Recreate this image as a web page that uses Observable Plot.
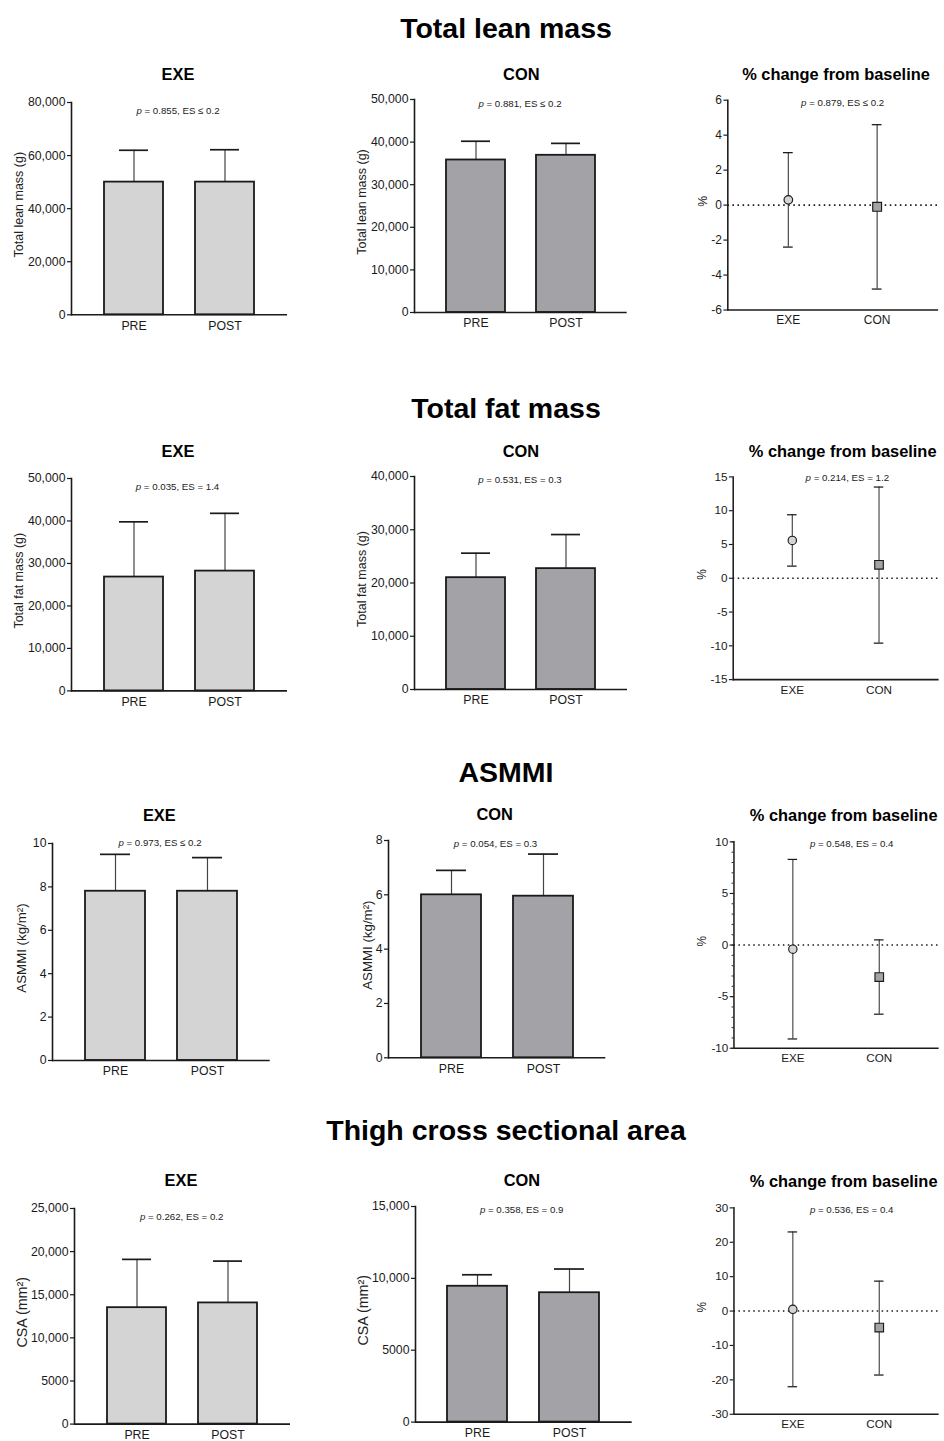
<!DOCTYPE html>
<html><head><meta charset="utf-8">
<script src="https://cdn.jsdelivr.net/npm/d3@7"></script>
<script src="https://cdn.jsdelivr.net/npm/@observablehq/plot@0.6"></script>
<style>
html,body{margin:0;padding:0;background:#fff;}
body{width:944px;height:1441px;overflow:hidden;position:relative;font-family:"Liberation Sans",Arial,sans-serif;color:#000;}
#root{position:absolute;left:0;top:0;width:944px;height:1441px;overflow:hidden;}
.sec{position:absolute;width:700px;text-align:center;font-weight:bold;font-size:28.5px;line-height:28px;}
.ptitle{position:absolute;width:300px;text-align:center;font-weight:bold;font-size:16.4px;line-height:16px;}
.ann{position:absolute;width:220px;text-align:center;font-size:9.7px;line-height:10px;color:#222;white-space:nowrap;}
.panel{position:absolute;}
.panel svg{overflow:visible;}
</style></head>
<body><div id="root"></div>
<script>
// ---------------- data ----------------
const timepoints = ["PRE", "POST"];
const groups = ["EXE", "CON"];
const sectionTitles = ["Total lean mass", "Total fat mass", "ASMMI", "Thigh cross sectional area"];
const yAxisLabels = ["Total lean mass (g)", "Total fat mass (g)", "ASMMI (kg/m²)", "CSA (mm²)"];
const pctTitle = "% change from baseline";
const pctAxisLabel = "%";

// bar means (PRE, POST) and mean + SD
const exeMean  = [[50000, 50000], [26800, 28200], [7.8, 7.8], [13500, 14050]];
const exeUpper = [[62000, 62200], [39800, 41800], [9.5, 9.35], [19100, 18900]];
const conMean  = [[35800, 36900], [21000, 22700], [6.0, 5.95], [9450, 9000]];
const conUpper = [[40200, 39700], [25600, 29100], [6.9, 7.5], [10250, 10650]];

// % change from baseline (EXE, CON): mean, lower, upper
const pctMean = [[0.3, -0.1], [5.6, 2.0], [-0.4, -3.1], [0.5, -4.8]];
const pctLow  = [[-2.4, -4.8], [1.8, -9.6], [-9.1, -6.7], [-22.0, -18.6]];
const pctHigh = [[3.0, 4.6], [9.4, 13.5], [8.3, 0.5], [23.0, 8.7]];

// statistics annotations
const exeP  = ["0.855", "0.035", "0.973", "0.262"];
const exeES = ["≤ 0.2", "= 1.4", "≤ 0.2", "= 0.2"];
const conP  = ["0.881", "0.531", "0.054", "0.358"];
const conES = ["≤ 0.2", "= 0.3", "= 0.3", "= 0.9"];
const pctP  = ["0.879", "0.214", "0.548", "0.536"];
const pctES = ["≤ 0.2", "= 1.2", "= 0.4", "= 0.4"];

// tick values
const exeYTicks = [[0, 20000, 40000, 60000, 80000], [0, 10000, 20000, 30000, 40000, 50000], [0, 2, 4, 6, 8, 10], [0, 5000, 10000, 15000, 20000, 25000]];
const conYTicks = [[0, 10000, 20000, 30000, 40000, 50000], [0, 10000, 20000, 30000, 40000], [0, 2, 4, 6, 8], [0, 5000, 10000, 15000]];
const pctYTicks = [[-6, -4, -2, 0, 2, 4, 6], [-15, -10, -5, 0, 5, 10, 15], [-10, -5, 0, 5, 10], [-30, -20, -10, 0, 10, 20, 30]];
const pctMinorTicks = [null, null, [-10,-9,-8,-7,-6,-5,-4,-3,-2,-1,0,1,2,3,4,5,6,7,8,9,10], null];

// ---------------- layout ----------------
const EXE_FILL = "#d4d4d4", CON_FILL = "#a3a2a7", INK = "#1a1a1a";
const FONT = "'Liberation Sans', Arial, sans-serif";
const layout = [
  {titleY: 28, labSize: 12.5, panels: [
    {l: 71, t: 101.7, b: 314, r: 287, annX: 178, annY: 110.7, labDx: 53, titleY: 74},
    {l: 414.3, t: 99, b: 312, r: 627, annX: 520, annY: 104, labDx: 52.6, titleY: 74},
    {l: 729, t: 100, b: 315, annX: 842.7, annY: 102.7, labDx: 25.7, titleY: 74}]},
  {titleY: 408, labSize: 12.5, panels: [
    {l: 71, t: 478.3, b: 690.7, r: 287, annX: 177.5, annY: 487.3, labDx: 52.7, titleY: 450.7},
    {l: 414, t: 475.7, b: 688.7, r: 627, annX: 520, annY: 480, labDx: 52.3, titleY: 450.7},
    {l: 735.7, t: 477.3, b: 690, annX: 847.3, annY: 478.3, labDx: 32.4, titleY: 450.7}]},
  {titleY: 772, labSize: 13.3, panels: [
    {l: 52.3, t: 842.7, b: 1059.7, r: 270, annX: 160, annY: 843.3, labDx: 30.6, titleY: 815},
    {l: 387.7, t: 840, b: 1057.3, r: 605, annX: 495.5, annY: 844.3, labDx: 21, titleY: 814},
    {l: 736.7, t: 841.7, b: 1059, annX: 851.7, annY: 844.3, labDx: 33.4, titleY: 815}]},
  {titleY: 1130, labSize: 14.3, panels: [
    {l: 74, t: 1207.7, b: 1423.3, r: 290, annX: 181.7, annY: 1217.3, labDx: 52.3, titleY: 1180},
    {l: 415, t: 1205.7, b: 1421.3, r: 631.7, annX: 521.7, annY: 1210, labDx: 51.7, titleY: 1180},
    {l: 736.7, t: 1207.7, b: 1425, annX: 851.7, annY: 1210, labDx: 33.4, titleY: 1180.7}]}
];
const ML = 70, MT = 12, MB = 22, MR = 6, PCT_W = 216;

const root = document.getElementById("root");
function addDiv(cls, x, y, html, w) {
  const d = document.createElement("div");
  d.className = cls;
  d.style.left = (x - w / 2) + "px";
  d.style.top = y + "px";
  d.innerHTML = html;
  root.appendChild(d);
  return d;
}
const yFmt = d => Math.abs(d) >= 10000 ? d3.format(",")(d) : String(d);

function place(svg, p) {
  const wrap = document.createElement("div");
  wrap.className = "panel";
  wrap.style.left = (p.l - ML) + "px";
  wrap.style.top = (p.t - MT) + "px";
  wrap.appendChild(svg);
  root.appendChild(wrap);
}

function yLabelMark(text, p, size) {
  return Plot.text([text], {frameAnchor: "left", textAnchor: "middle", rotate: -90, dx: -p.labDx, dy: -4, fontSize: size, fill: "#222"});
}

function barPanel(p, means, uppers, ticks, fill, ylabel, labSize) {
  const data = timepoints.map((c, i) => ({cat: c, mean: means[i], top: uppers[i]}));
  const W = p.r - p.l, H = p.b - p.t;
  const y0 = ticks[0], y1 = ticks[ticks.length - 1];
  const svg = Plot.plot({
    width: ML + W + MR, height: MT + H + MB,
    marginLeft: ML, marginRight: MR, marginTop: MT, marginBottom: MB,
    style: {fontFamily: FONT, background: "transparent", color: INK},
    x: {type: "band", domain: timepoints, padding: 0.35, axis: null},
    y: {domain: [y0, y1], axis: null},
    marks: [
      Plot.ruleX(data, {x: "cat", y1: "mean", y2: "top", stroke: "#444", strokeWidth: 1.2}),
      Plot.tickY(data, {x: "cat", y: "top", inset: 15, stroke: INK, strokeWidth: 1.7}),
      Plot.barY(data, {x: "cat", y1: y0, y2: "mean", fill: fill, stroke: INK, strokeWidth: 1.8}),
      Plot.axisY({ticks: ticks, tickSize: 4, tickPadding: 2, tickFormat: yFmt, fontSize: 12.3, strokeWidth: 1.2, label: null}),
      Plot.axisX({tickSize: 0, tickPadding: 6, fontSize: 12.3, label: null}),
      Plot.frame({anchor: "left", stroke: INK, strokeWidth: 1.6}),
      Plot.ruleY([y0], {stroke: INK, strokeWidth: 1.6}),
      yLabelMark(ylabel, p, labSize)
    ]
  });
  place(svg, p);
}

function pctPanel(p, means, lows, highs, ticks, minor, labSize) {
  const data = groups.map((g, i) => ({g, mean: means[i], lo: lows[i], hi: highs[i]}));
  const H = p.b - p.t;
  const y0 = ticks[0], y1 = ticks[ticks.length - 1];
  const marks = [
    Plot.ruleY([0], {stroke: INK, strokeWidth: 1.6, strokeDasharray: "1.6,3.6"}),
    Plot.ruleX(data, {x: "g", y1: "lo", y2: "hi", stroke: "#444", strokeWidth: 1.2}),
    Plot.tickY(data, {x: "g", y: "lo", stroke: INK, strokeWidth: 1.3}),
    Plot.tickY(data, {x: "g", y: "hi", stroke: INK, strokeWidth: 1.3}),
    Plot.dot(data, {filter: d => d.g === groups[0], x: "g", y: "mean", symbol: "g", fill: "g", stroke: INK, strokeWidth: 1.2, r: 4.4}),
    Plot.dot(data, {filter: d => d.g === groups[1], x: "g", y: "mean", symbol: "g", fill: "g", stroke: INK, strokeWidth: 1.2, r: 5.1}),
    Plot.axisY({ticks: ticks, tickSize: 4, tickPadding: 2, tickFormat: yFmt, fontSize: 12.3, strokeWidth: 1.2, label: null}),
    Plot.axisX({tickSize: 0, tickPadding: 6, fontSize: 12.3, label: null}),
    Plot.frame({anchor: "left", stroke: INK, strokeWidth: 1.6}),
    Plot.ruleY([y0], {stroke: INK, strokeWidth: 1.6}),
    yLabelMark(pctAxisLabel, p, 12.5)
  ];
  if (minor) marks.push(Plot.axisY({ticks: minor, tickSize: 2, tickFormat: () => "", strokeWidth: 1, label: null}));
  const svg = Plot.plot({
    width: ML + PCT_W + MR, height: MT + H + MB,
    marginLeft: ML, marginRight: MR, marginTop: MT, marginBottom: MB,
    style: {fontFamily: FONT, background: "transparent", color: INK},
    x: {type: "band", domain: groups, paddingInner: 0.89, paddingOuter: 0.62, axis: null},
    y: {domain: [y0, y1], axis: null},
    symbol: {domain: groups, range: ["circle", "square"]},
    color: {domain: groups, range: [EXE_FILL, CON_FILL]},
    marks
  });
  place(svg, p);
}

layout.forEach((row, k) => {
  addDiv("sec", 506, row.titleY - 14, sectionTitles[k], 700);
  const [pe, pc, pp] = row.panels;
  barPanel(pe, exeMean[k], exeUpper[k], exeYTicks[k], EXE_FILL, yAxisLabels[k], row.labSize);
  barPanel(pc, conMean[k], conUpper[k], conYTicks[k], CON_FILL, yAxisLabels[k], row.labSize);
  pctPanel(pp, pctMean[k], pctLow[k], pctHigh[k], pctYTicks[k], pctMinorTicks[k], row.labSize);
  addDiv("ptitle", pe.l + 107, pe.titleY - 8, groups[0], 300);
  addDiv("ptitle", pc.l + 107, pc.titleY - 8, groups[1], 300);
  addDiv("ptitle", pp.l + 107, pp.titleY - 8, pctTitle, 300);
  addDiv("ann", pe.annX, pe.annY - 5, `<i>p</i> = ${exeP[k]}, ES ${exeES[k]}`, 220);
  addDiv("ann", pc.annX, pc.annY - 5, `<i>p</i> = ${conP[k]}, ES ${conES[k]}`, 220);
  addDiv("ann", pp.annX, pp.annY - 5, `<i>p</i> = ${pctP[k]}, ES ${pctES[k]}`, 220);
});
</script>
</body></html>
